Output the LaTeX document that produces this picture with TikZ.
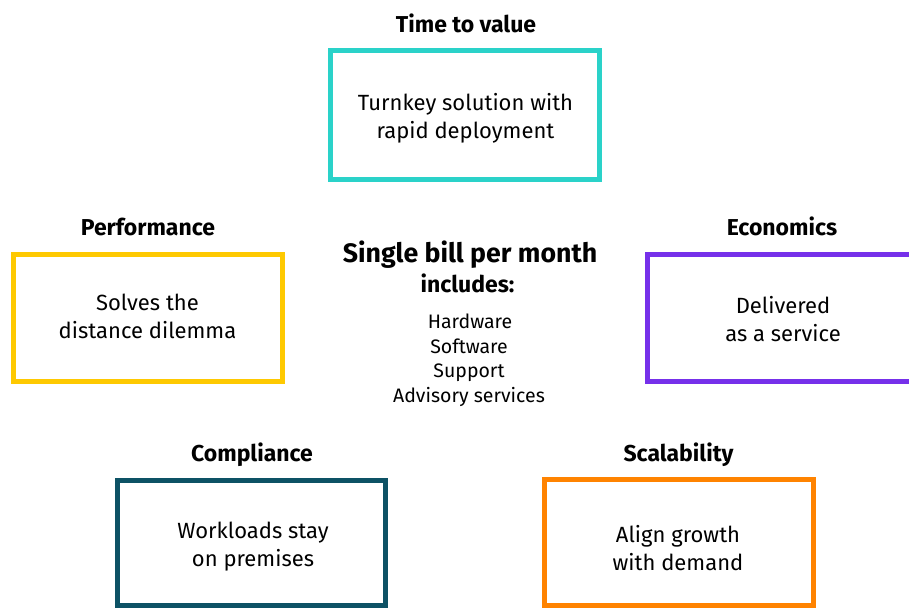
\documentclass[tikz,border=0pt]{standalone}
\usepackage{fontspec}
\setmainfont{Fira Sans}
\definecolor{hteal}{HTML}{2AD2C9}
\definecolor{hyellow}{HTML}{FEC901}
\definecolor{hpurple}{HTML}{7630EA}
\definecolor{hdark}{HTML}{0D5265}
\definecolor{horange}{HTML}{FF8300}
\tikzset{
  frame/.style={draw=#1, line width=5pt, rectangle, inner sep=0pt, fill=white},
  title/.style={anchor=base, inner sep=0pt, font=\fontsize{23}{26}\selectfont\bfseries},
  body/.style={align=center, inner sep=0pt, font=\fontsize{22}{28}\selectfont},
  item/.style={anchor=base, inner sep=0pt, font=\fontsize{19.5}{22}\selectfont},
}
\begin{document}
\begin{tikzpicture}[x=1pt,y=-1pt]
\useasboundingbox (0,0) rectangle (909,608);
% boxes
\node[frame=hteal, minimum width=269pt, minimum height=129pt] (btime) at (465,115) {};
\node[frame=hyellow, minimum width=269pt, minimum height=127pt] (bperf) at (148,318) {};
\node[frame=hpurple, minimum width=300pt, minimum height=127pt] (becon) at (797.5,318) {};
\node[frame=hdark, minimum width=268pt, minimum height=125pt] (bcomp) at (251.5,543) {};
\node[frame=horange, minimum width=269pt, minimum height=126pt] (bscal) at (679,542.5) {};
% titles
\node[title] (ttime) at (466,32) {Time to value};
\node[title] (tperf) at (148,235) {Performance};
\node[title] (tecon) at (782,235) {Economics};
\node[title] (tcomp) at (252,461) {Compliance};
\node[title] (tscal) at (678.5,461) {Scalability};
% box texts
\node[body] (xtime) at (465.5,118.5) {Turnkey solution with\\rapid deployment};
\node[body] (xperf) at (147.5,316.5) {Solves the\\distance dilemma};
\node[body] (xecon) at (783,319) {Delivered\\as a service};
\node[body] (xcomp) at (253,546.5) {Workloads stay\\on premises};
\node[body] (xscal) at (678,548) {Align growth\\with demand};
% centre
\node[anchor=base, inner sep=0pt, font=\fontsize{26.7}{30}\selectfont\bfseries] (bill) at (470,262) {Single bill per month};
\node[title] (incl) at (467.5,292) {includes:};
\node[item] (i1) at (470,328) {Hardware};
\node[item] (i2) at (469,353) {Software};
\node[item] (i3) at (469,377) {Support};
\node[item] (i4) at (469,402) {Advisory services};
\end{tikzpicture}
\end{document}
